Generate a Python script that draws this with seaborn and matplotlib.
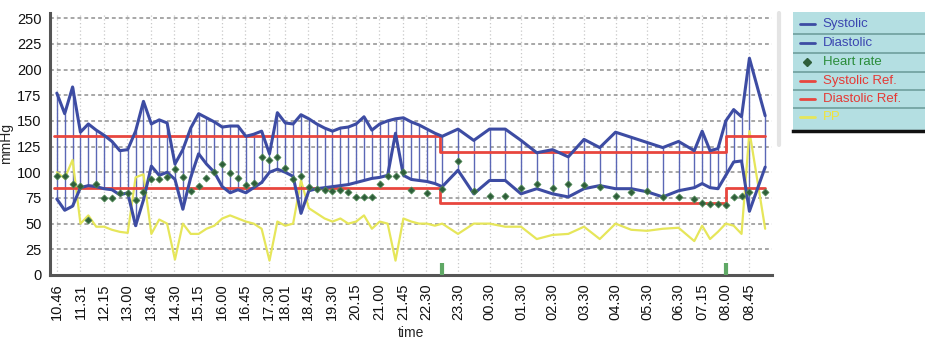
import numpy as np
import pandas as pd
import matplotlib
matplotlib.use("Agg")
import matplotlib.pyplot as plt
from matplotlib.lines import Line2D
import seaborn as sns

# ---- ambulatory blood pressure readings ----
times = [
    "10:46", "11:01", "11:16", "11:31", "11:46", "12:01", "12:16", "12:31", "12:46", "13:01",
    "13:16", "13:31", "13:46", "14:01", "14:16", "14:31", "14:46", "15:01", "15:16", "15:31",
    "15:46", "16:01", "16:16", "16:31", "16:46", "17:01", "17:16", "17:31", "17:46", "18:01",
    "18:16", "18:31", "18:46", "19:01", "19:16", "19:31", "19:46", "20:01", "20:16", "20:31",
    "20:46", "21:01", "21:16", "21:31", "21:46", "22:01", "22:16", "22:31", "22:46",
    "23:00", "23:30", "00:00", "00:30", "01:00", "01:30", "02:00", "02:30", "03:00", "03:30",
    "04:00", "04:30", "05:00", "05:30", "06:00", "06:30", "07:00",
    "07:15", "07:30", "07:45", "08:00", "08:15", "08:30", "08:45", "09:15",
]
systolic = [
    177, 157, 183, 139, 147, 141, 136, 130, 121, 122,
    140, 169, 147, 151, 148, 108, 122, 143, 157, 153,
    149, 144, 145, 145, 135, 137, 140, 118, 158, 148,
    147, 156, 152, 147, 143, 140, 143, 144, 147, 154,
    141, 147, 150, 152, 153, 149, 146, 142, 138,
    135, 142, 131, 142, 142, 131, 119, 122, 115, 132,
    124, 139, 134, 129, 124, 130, 121,
    140, 121, 123, 150, 161, 154, 211, 155,
]
diastolic = [
    74, 63, 67, 85, 87, 86, 84, 83, 78, 80,
    48, 73, 106, 97, 100, 93, 64, 95, 118, 108,
    100, 86, 80, 83, 80, 85, 90, 100, 103, 100,
    96, 60, 82, 84, 85, 86, 87, 88, 90, 92,
    94, 95, 97, 138, 97, 93, 92, 91, 89,
    86, 102, 79, 92, 92, 79, 84, 79, 76, 84,
    87, 84, 84, 81, 76, 82, 85,
    89, 85, 84, 97, 110, 111, 62, 105,
]
heart_rate = [
    96, 96, 89, 87, 54, 89, 75, 75, 80, 80,
    73, 81, 93, 93, 95, 103, 95, 82, 87, 94,
    100, 108, 99, 94, 88, 90, 115, 112, 115, 104,
    93, 96, 86, 84, 83, 82, 83, 81, 76, 76,
    76, 89, 96, 96, 100, 83, np.nan, 80, np.nan,
    84, 111, 82, 77, 77, 85, 89, 85, 89, 88,
    86, 77, 81, 82, 76, 76, 74,
    70, 69, 69, 68, 76, 77, 81, 81,
]
pulse_pressure = [
    100, 94, 112, 50, 58, 47, 47, 44, 42, 41,
    95, 98, 40, 54, 50, 15, 50, 40, 40, 45,
    48, 55, 58, 55, 52, 50, 45, 14, 52, 48,
    50, 92, 65, 60, 55, 52, 55, 50, 52, 58,
    45, 52, 50, 14, 55, 52, 50, 50, 48,
    50, 40, 50, 50, 47, 47, 35, 39, 40, 47,
    35, 50, 44, 43, 45, 46, 33,
    48, 35, 42, 50, 48, 40, 140, 45,
]

# reference limits (day / night / day)
ref_times = ["10:40", "22:56", "08:00", "09:15"]
systolic_ref = [135, 120, 135, 135]
diastolic_ref = [85, 70, 85, 85]

# sleep / wake markers
sleep_marks = ["22:59", "08:00"]

tick_labels = ["10.46", "11.31", "12.15", "13.00", "13.46", "14.30", "15.15", "16.00",
               "16.45", "17.30", "18.01", "18.45", "19.30", "20.15", "21.00", "21.45",
               "22.30", "23.30", "00.30", "01.30", "02.30", "03.30", "04.30", "05.30",
               "06.30", "07.15", "08.00", "08.45"]


def to_minutes(hhmm):
    """Minutes elapsed since the first reading (10:46), wrapping past midnight."""
    h, m = map(int, hhmm.replace(".", ":").split(":"))
    total = h * 60 + m - (10 * 60 + 46)
    if total < -60:
        total += 1440
    return total


df = pd.DataFrame({
    "t": [to_minutes(s) for s in times],
    "systolic": systolic,
    "diastolic": diastolic,
    "heart_rate": heart_rate,
    "pp": pulse_pressure,
})
ref = pd.DataFrame({
    "t": [to_minutes(s) for s in ref_times],
    "sys_ref": systolic_ref,
    "dia_ref": diastolic_ref,
})

sns.set_theme(style="white")
plt.rcParams["font.family"] = ["Liberation Sans", "DejaVu Sans"]

BLUE = "#3d4ca3"
RED = "#e8463e"
YELLOW = "#e6e65a"
GREEN_DOT = "#2f5e3a"

fig = plt.figure(figsize=(9.25, 3.39), dpi=100)
ax = fig.add_axes([50 / 925, (339 - 275) / 339, (772 - 50) / 925, (275 - 13) / 339])
ax.set_facecolor("white")

# readings: vertical span between diastolic and systolic
ax.vlines(df["t"], df["diastolic"], df["systolic"], color="#5b67b6", lw=1.0, zorder=2)

sns.lineplot(data=df, x="t", y="pp", ax=ax, color=YELLOW, lw=1.6, sort=False,
             estimator=None, legend=False, zorder=3)
sns.lineplot(data=ref, x="t", y="sys_ref", ax=ax, color=RED, lw=2.0,
             drawstyle="steps-post", estimator=None, legend=False, zorder=4)
sns.lineplot(data=ref, x="t", y="dia_ref", ax=ax, color=RED, lw=2.0,
             drawstyle="steps-post", estimator=None, legend=False, zorder=4)
sns.lineplot(data=df, x="t", y="systolic", ax=ax, color=BLUE, lw=2.2, sort=False,
             estimator=None, legend=False, zorder=5)
sns.lineplot(data=df, x="t", y="diastolic", ax=ax, color=BLUE, lw=2.2, sort=False,
             estimator=None, legend=False, zorder=5)
sns.scatterplot(data=df.dropna(subset=["heart_rate"]), x="t", y="heart_rate", ax=ax,
                marker="D", s=13, color=GREEN_DOT, edgecolor="#4f8a55", linewidth=0.5,
                legend=False, zorder=6)

ax.vlines([to_minutes(s) for s in sleep_marks], 0, 12, color="#5fa865", lw=3, zorder=6)

ax.set_xlim(-13, 1362)
ax.set_ylim(0, 255)
ax.set_yticks(range(0, 251, 25))
ax.set_xticks([to_minutes(s) for s in tick_labels])
ax.set_xticklabels(tick_labels, rotation=90)
ax.tick_params(axis="both", length=0, pad=6, labelsize=10.5, colors="#111111")
ax.set_xlabel("time", fontsize=10, labelpad=4)
ax.set_ylabel("mmHg", fontsize=10, labelpad=3)

ax.yaxis.grid(True, linestyle=(0, (2.5, 2)), color="#8f8f8f", lw=1.1)
ax.xaxis.grid(True, linestyle=(0, (1, 2)), color="#c9c9c9", lw=0.9)
ax.set_axisbelow(True)
for side in ("top", "right"):
    ax.spines[side].set_visible(False)
for side in ("left", "bottom"):
    ax.spines[side].set_color("#555555")
    ax.spines[side].set_linewidth(2.2)

# light frame edge to the right of the plotting area
fig.add_artist(Line2D([779 / 925, 779 / 925], [(339 - 145) / 339, (339 - 13) / 339],
                      color="#e4e4e4", lw=3, transform=fig.transFigure))

# ---- legend panel ----
lax = fig.add_axes([793 / 925, (339 - 131) / 339, (925 - 793) / 925, (131 - 12) / 339])
lax.set_facecolor("#b4dfe2")
lax.set_xlim(0, 1)
lax.set_ylim(0, 1)
lax.set_xticks([])
lax.set_yticks([])
for side in ("top", "left", "right"):
    lax.spines[side].set_visible(False)
lax.spines["bottom"].set_color("#111111")
lax.spines["bottom"].set_linewidth(2.5)

for ysep in (0.814, 0.657, 0.5, 0.347, 0.195):
    lax.axhline(ysep, color="#6f9f9d", lw=1.2)

entries = [
    ("Systolic", "line", BLUE, "#3a45b0"),
    ("Diastolic", "line", BLUE, "#3a45b0"),
    ("Heart rate", "dot", GREEN_DOT, "#2a8c3a"),
    ("Systolic Ref.", "line", RED, "#e53935"),
    ("Diastolic Ref.", "line", RED, "#e53935"),
    ("PP", "line", YELLOW, "#f0e43c"),
]
rows = [0.895, 0.737, 0.578, 0.424, 0.271, 0.118]
for (label, kind, hcol, tcol), yc in zip(entries, rows):
    if kind == "line":
        lax.plot([0.05, 0.165], [yc, yc], color=hcol, lw=2)
    else:
        lax.plot([0.108], [yc], marker="D", ms=4, color=hcol)
    lax.text(0.225, yc, label, color=tcol, fontsize=9.5, va="center", ha="left")

fig.savefig("out.png", dpi=100)
